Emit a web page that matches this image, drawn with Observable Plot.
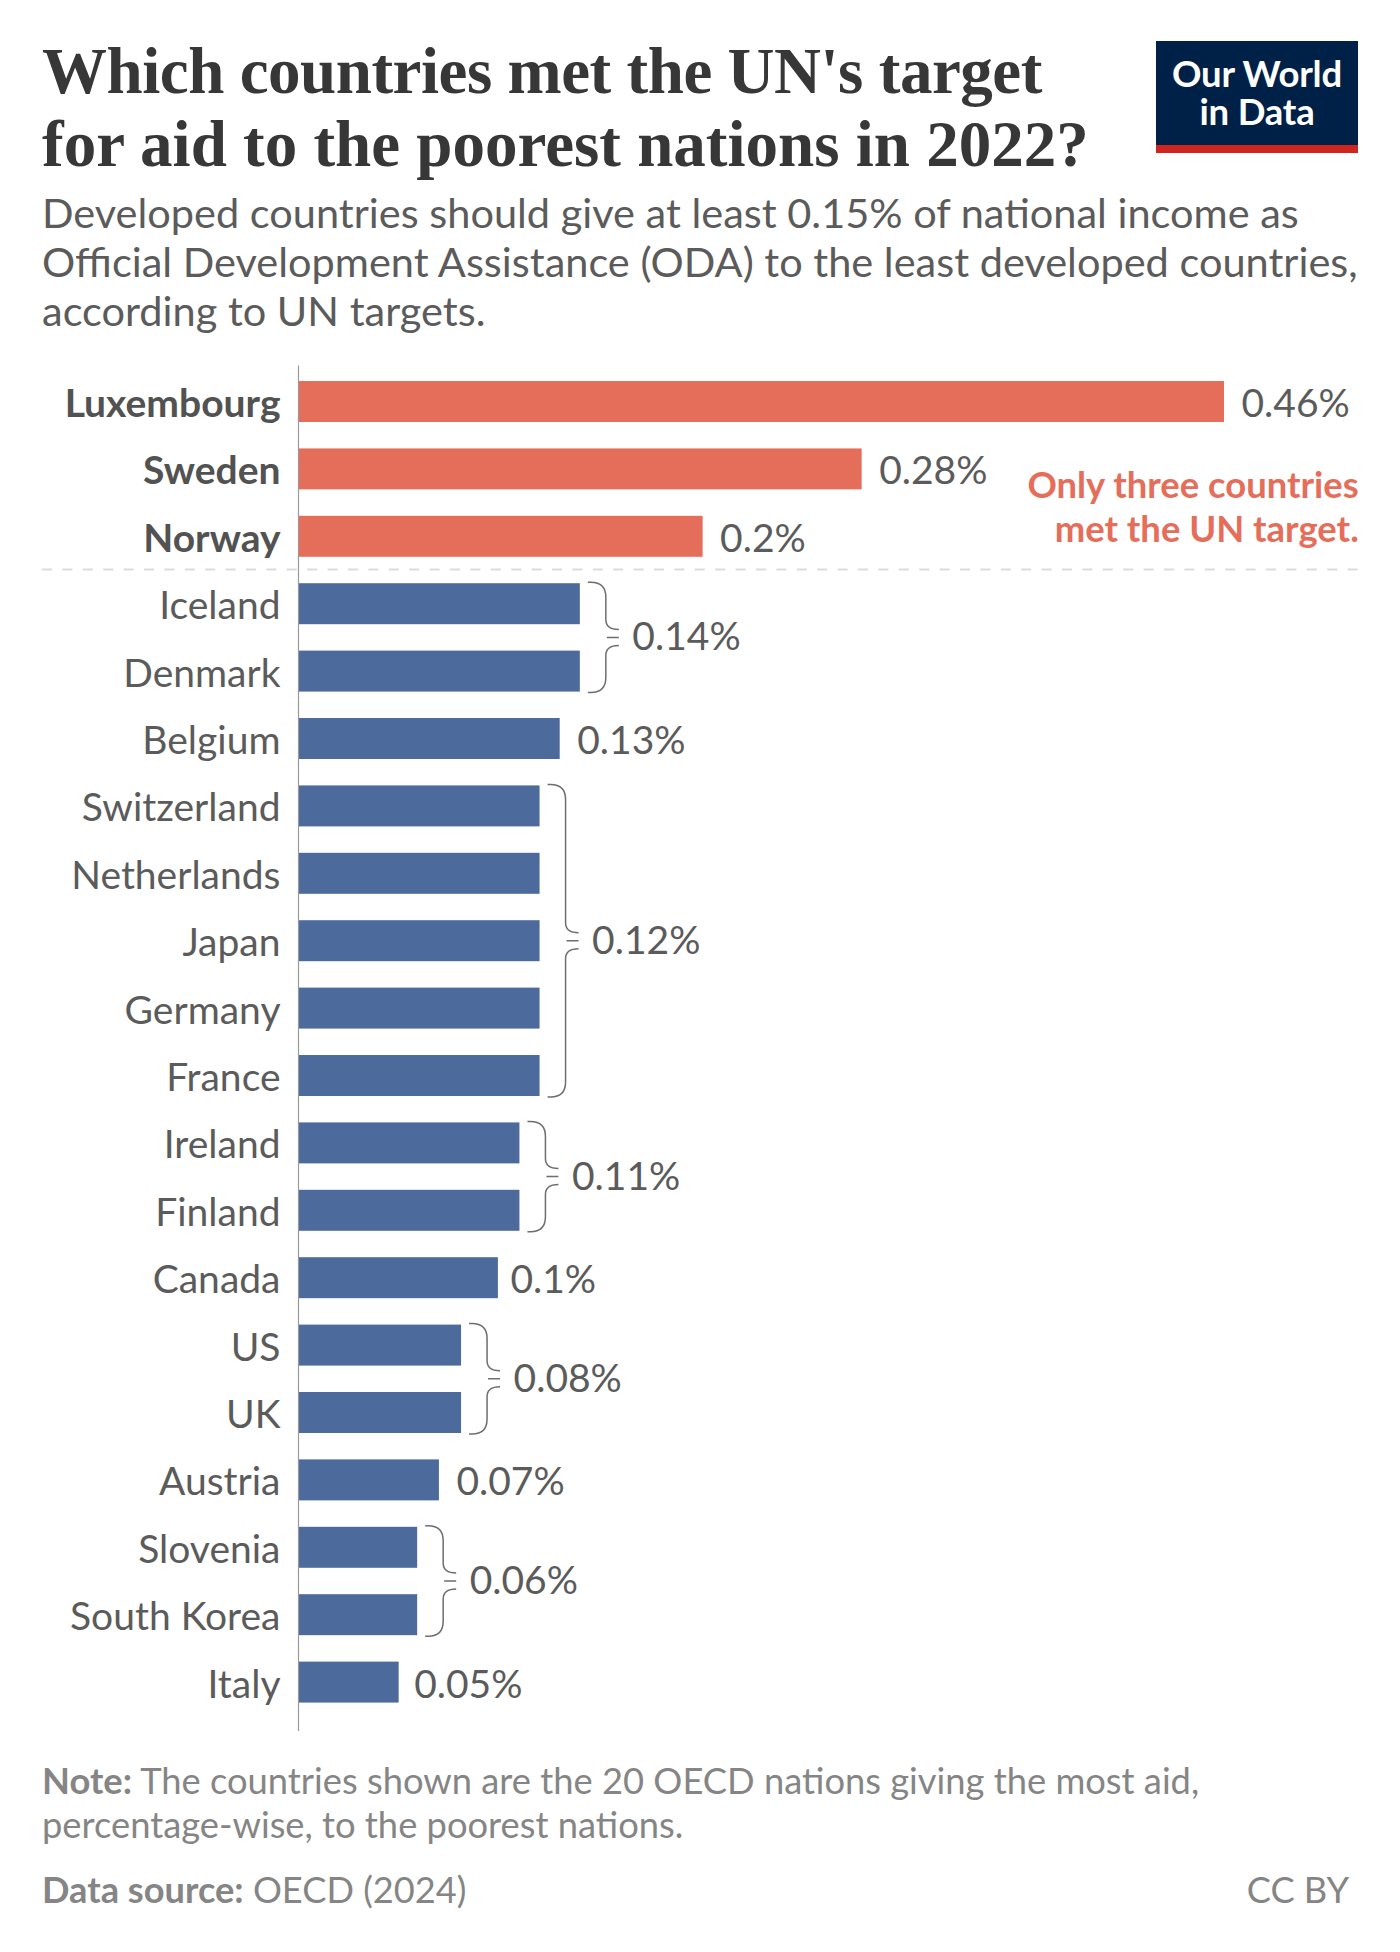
<!DOCTYPE html>
<html><head><meta charset="utf-8">
<script src="https://cdn.jsdelivr.net/npm/d3@7"></script>
<script src="https://cdn.jsdelivr.net/npm/@observablehq/plot@0.6"></script>
<style>
html,body{margin:0;padding:0;background:#fff;}
#page{position:relative;width:1400px;height:1952px;overflow:hidden;font-family:Lato,sans-serif;}
.t{position:absolute;white-space:nowrap;}
.title{left:42px;font-family:'Liberation Serif',serif;font-weight:700;font-size:65px;line-height:73px;color:#373737;}
#chart{position:absolute;left:0;top:340px;}
</style></head><body>
<div id="page">
<div class="t title" style="top:35px;letter-spacing:-0.47px">Which countries met the UN's target</div>
<div class="t title" style="top:108px;">for aid to the poorest nations in 2022?</div>
<div class="t" style="left:42px;top:188px;font-size:41.5px;line-height:49.2px;color:#5b5b5b;">Developed countries should give at least 0.15% of national income as<br>Official Development Assistance (ODA) to the least developed countries,<br>according to UN targets.</div>
<div class="t" style="left:1156px;top:41px;width:202px;height:104px;background:#002147;border-bottom:8px solid #ce261e;color:#fff;text-align:center;font-size:36.5px;line-height:38px;font-weight:700;letter-spacing:-0.2px;padding-top:0;">
<span style="display:block;padding-top:13px;">Our World<br>in Data</span></div>
<div id="chart"></div>
<div class="t" style="left:42px;top:1758px;font-size:36.3px;line-height:44px;color:#858585;"><b>Note:</b> The countries shown are the 20 OECD nations giving the most aid,<br>percentage-wise, to the poorest nations.</div>
<div class="t" style="left:42px;top:1867px;font-size:36.2px;line-height:44px;color:#858585;"><b>Data source:</b> OECD (2024)</div>
<div class="t" style="right:51px;top:1867px;font-size:36.2px;line-height:44px;color:#858585;">CC BY</div>
</div>
<script>
const countries = ["Luxembourg","Sweden","Norway","Iceland","Denmark","Belgium","Switzerland","Netherlands","Japan","Germany","France","Ireland","Finland","Canada","US","UK","Austria","Slovenia","South Korea","Italy"];
const values = [0.46,0.28,0.201,0.14,0.14,0.13,0.12,0.12,0.12,0.12,0.12,0.11,0.11,0.0993,0.081,0.081,0.07,0.0592,0.0592,0.05];
const valueLabels = ["0.46%","0.28%","0.2%","0.14%","0.14%","0.13%","0.12%","0.12%","0.12%","0.12%","0.12%","0.11%","0.11%","0.1%","0.08%","0.08%","0.07%","0.06%","0.06%","0.05%"];
const metTarget = ["Luxembourg","Sweden","Norway"];
const annotation = ["Only three countries\nmet the UN target."];
const rows = countries.map((c,i)=>({country:c,value:values[i],label:valueLabels[i],met:metTarget.includes(c)}));
const groups = d3.groups(rows,d=>d.label).map(([label,r])=>({label,value:r[0].value,rows:r}));
const single = groups.filter(g=>g.rows.length===1).map(g=>g.rows[0]);
const multi = groups.filter(g=>g.rows.length>1);
const RED="#e56e5a", BLUE="#4c6a9c", INK="#5b5b5b";
const labelFont={fontFamily:"Lato, sans-serif",fontSize:39};

function brackets(index,{x,y}){
  const g=d3.create("svg:g").attr("fill","none").attr("stroke","#6e6e6e").attr("stroke-width",1.5);
  for(const {value,rows:r} of multi){
    const xe=x(value), top=y(r[0].country)-1, bot=y(r[r.length-1].country)+y.bandwidth()+1, mid=(top+bot)/2;
    const a=xe+8,b=xe+26,c=xe+39,rad=15;
    const p=d3.path();
    p.moveTo(a,top);p.lineTo(b-rad,top);p.quadraticCurveTo(b,top,b,top+rad);
    p.lineTo(b,mid-18);p.quadraticCurveTo(b,mid-8,c,mid-8);
    p.moveTo(b+1,mid);p.lineTo(c,mid);
    p.moveTo(c,mid+8);p.quadraticCurveTo(b,mid+8,b,mid+18);
    p.lineTo(b,bot-rad);p.quadraticCurveTo(b,bot,b-rad,bot);p.lineTo(a,bot);
    g.append("path").attr("d",p.toString());
  }
  return g.node();
}
function divider(index,{y}){
  const yy=(y(metTarget[metTarget.length-1])+y.bandwidth()+y(countries[metTarget.length]))/2-0.5;
  return d3.create("svg:line").attr("x1",42).attr("x2",1358).attr("y1",yy).attr("y2",yy)
    .attr("stroke","#dcdcdc").attr("stroke-width",2).attr("stroke-dasharray","10,10.4").node();
}
const nudged = {Canada:12, Italy:15};
const chart = Plot.plot({
  width:1400,height:1400,marginTop:25.5,marginBottom:9,marginLeft:0,marginRight:0,
  style:{background:"transparent",fontFamily:"Lato, sans-serif",overflow:"visible"},
  x:{domain:[0,0.46],range:[298,1224],axis:null},
  y:{domain:countries,range:[14.6,1389],padding:0.392,round:false,axis:null},
  marks:[
    Plot.barX(rows,{x:"value",y:"country",fill:d=>d.met?RED:BLUE}),
    Plot.ruleX([0],{stroke:"#9a9a9a",strokeWidth:1.2}),
    Plot.axisY(countries.filter(c=>!metTarget.includes(c)),{anchor:"left",x:0,tickSize:0,tickPadding:18,label:null,dy:2.5,...labelFont,fill:INK}),
    Plot.axisY(metTarget,{anchor:"left",x:0,tickSize:0,tickPadding:18,label:null,dy:2.5,...labelFont,fontWeight:700,fill:"#525252"}),
    Plot.text(single.filter(d=>!nudged[d.country]),{x:"value",y:"country",text:"label",textAnchor:"start",dx:17,dy:2.5,fill:INK,...labelFont}),
    Plot.text(single.filter(d=>d.country==="Canada"),{x:"value",y:"country",text:"label",textAnchor:"start",dx:nudged.Canada,dy:2.5,fill:INK,...labelFont}),
    Plot.text(single.filter(d=>d.country==="Italy"),{x:"value",y:"country",text:"label",textAnchor:"start",dx:nudged.Italy,dy:2.5,fill:INK,...labelFont}),
    Plot.text(multi,{x:"value",y:d=>d.rows[0].country,text:"label",textAnchor:"start",dx:52,fill:INK,...labelFont,
      render(i,s,c,d,ctx,next){const g=next(i,s,c,d,ctx);
        d3.select(g).selectAll("text").each(function(_,k){const m=multi[i[k]];
          const mid=(s.y(m.rows[0].country)+s.y(m.rows[m.rows.length-1].country))/2;
          d3.select(this).attr("transform",`translate(${s.x(m.value)},${mid})`);});return g;}}),
    brackets,divider,
    Plot.text(annotation,{x:()=>0.5267,y:()=>"Sweden",dy:-2,textAnchor:"end",lineHeight:1.2,lineAnchor:"top",fill:RED,fontWeight:700,fontFamily:"Lato, sans-serif",fontSize:36.4})
  ]
});
document.getElementById("chart").append(chart);
</script>
</body></html>
